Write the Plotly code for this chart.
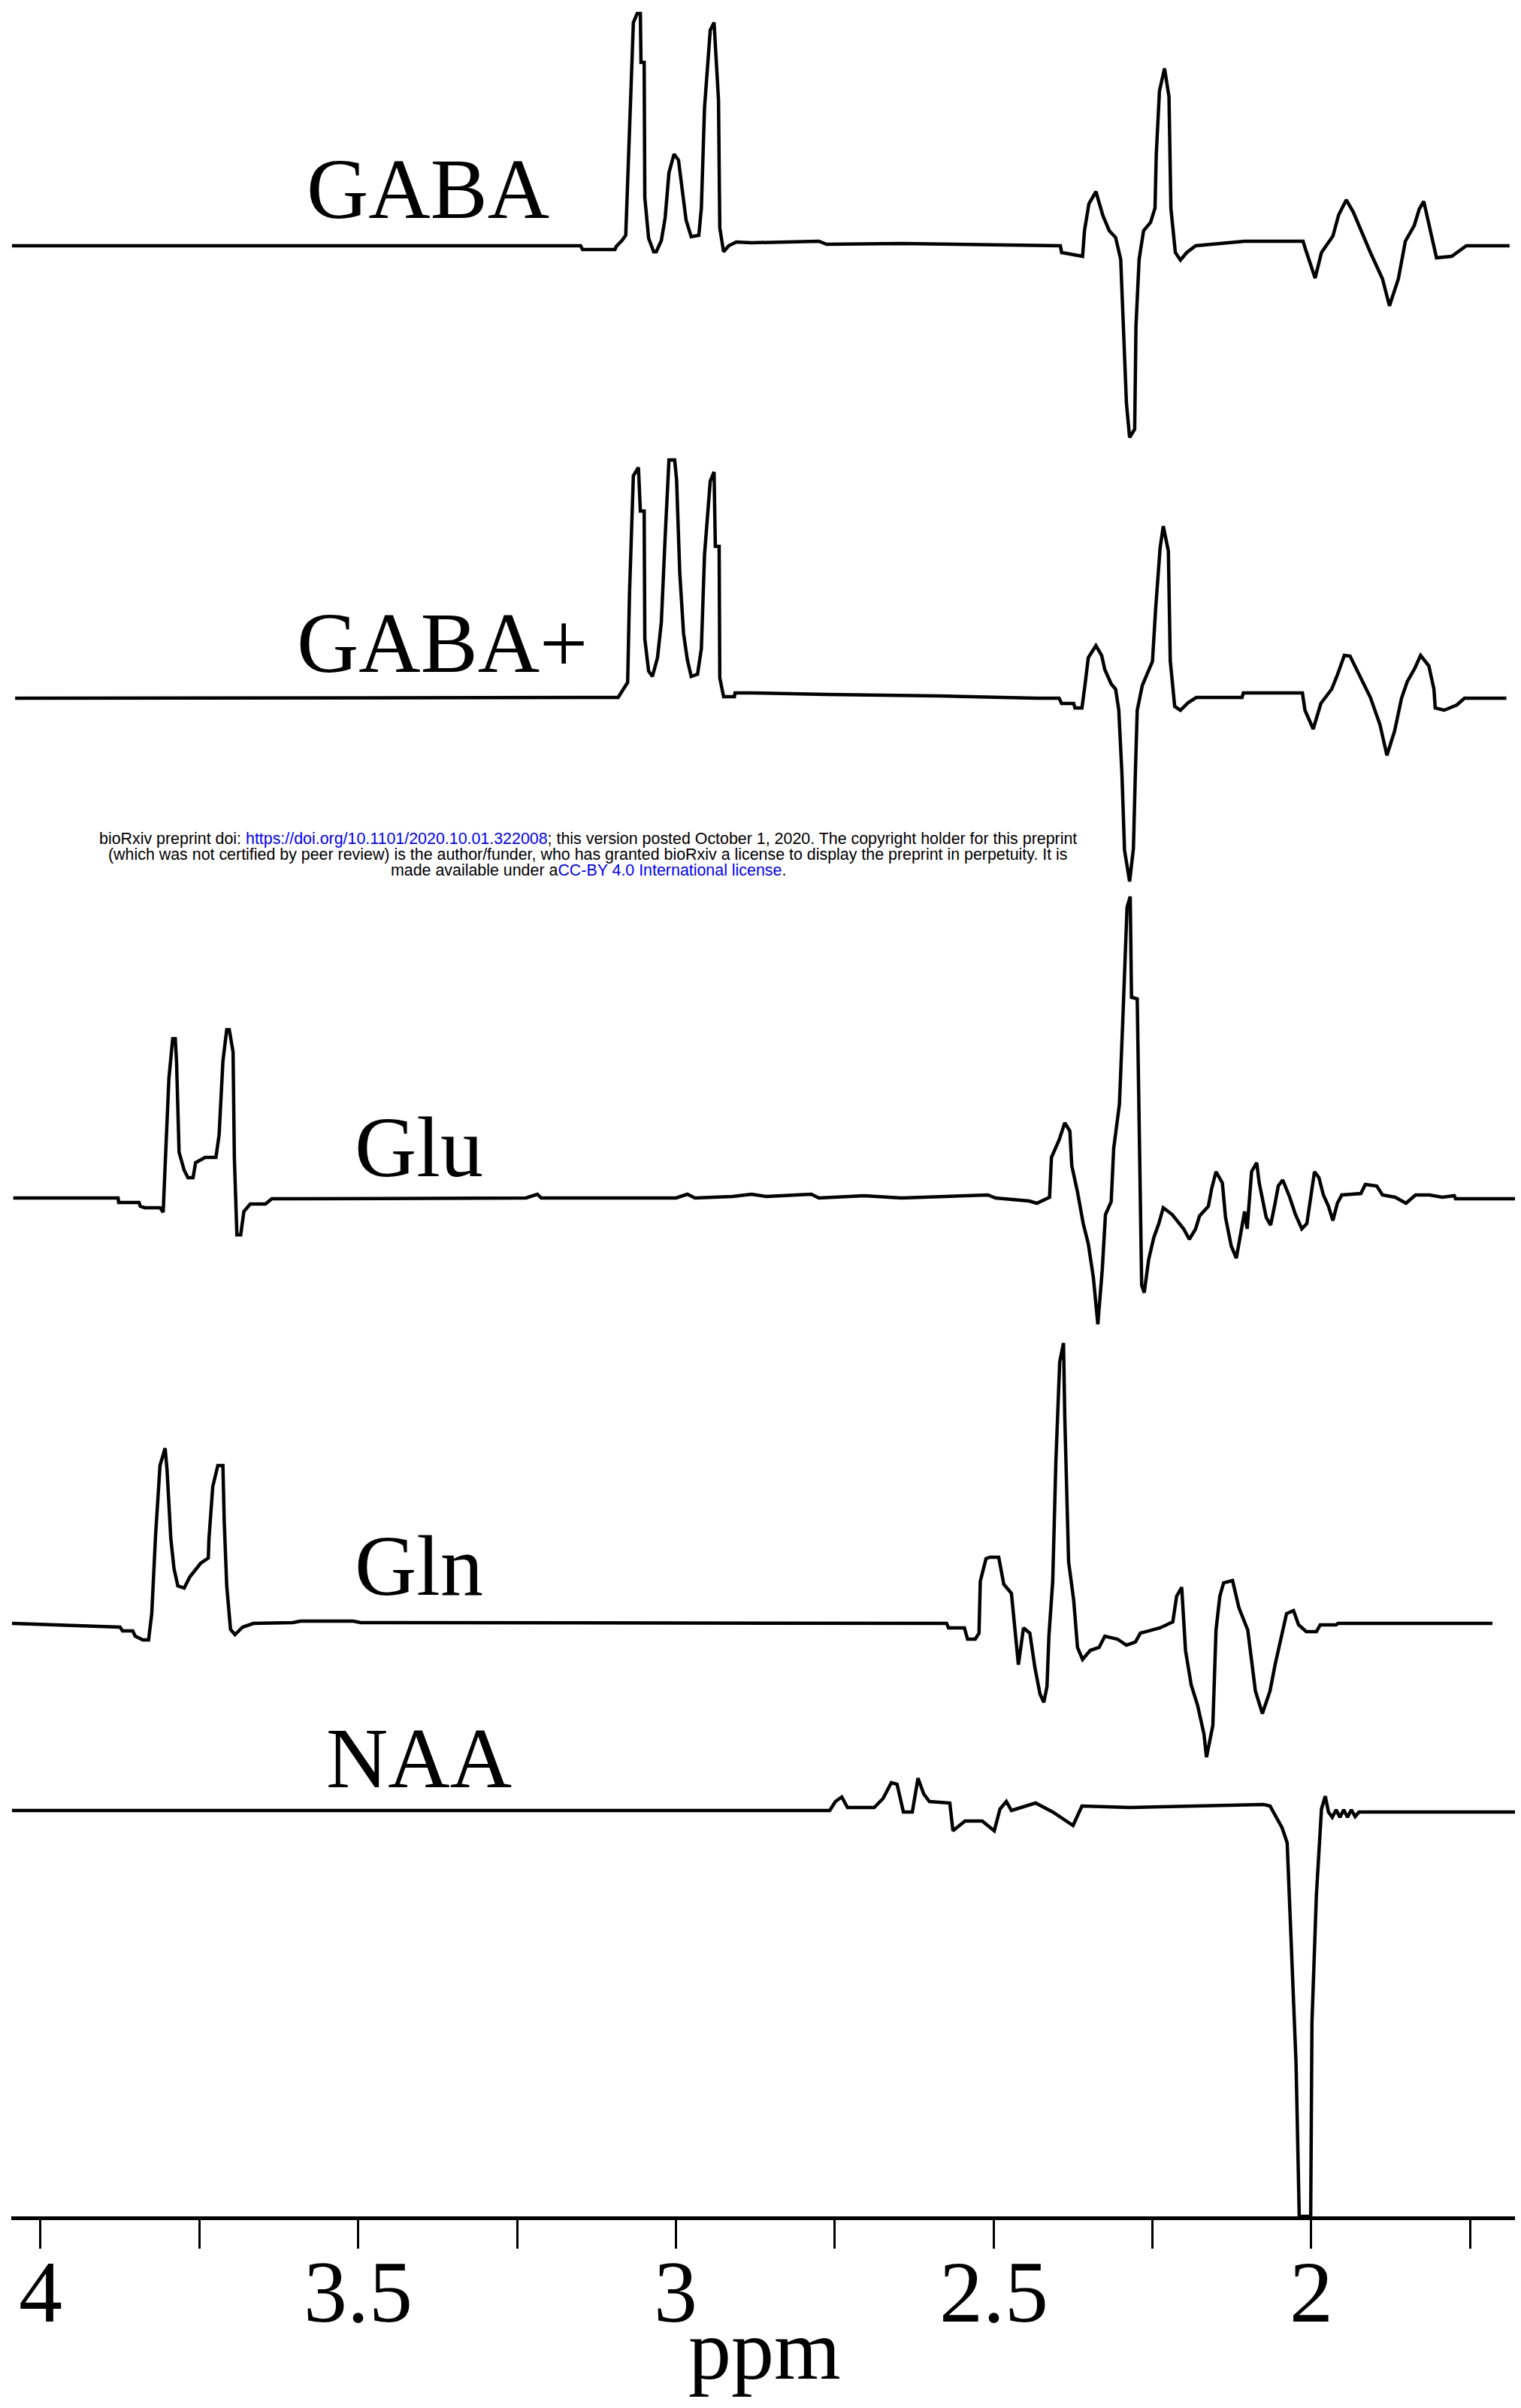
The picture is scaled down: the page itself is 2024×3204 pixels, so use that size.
import plotly.graph_objects as go

# ---------------- data ----------------
gaba_ppm = [4.045, 3.150, 3.147, 3.096, 3.094, 3.085, 3.079, 3.074, 3.067, 3.061, 3.056, 3.055, 3.050, 3.049,
            3.043, 3.035, 3.031, 3.023, 3.017, 3.011, 3.003, 2.996, 2.990, 2.984, 2.976, 2.964, 2.960, 2.955,
            2.946, 2.940, 2.933, 2.931, 2.925, 2.917, 2.905, 2.881, 2.775, 2.763, 2.645, 2.432, 2.395, 2.393,
            2.360, 2.357, 2.350, 2.339, 2.328, 2.318, 2.308, 2.300, 2.296, 2.291, 2.286, 2.278, 2.276, 2.271,
            2.264, 2.253, 2.246, 2.244, 2.239, 2.231, 2.224, 2.221, 2.214, 2.206, 2.196, 2.182, 2.105, 2.013,
            2.009, 1.994, 1.984, 1.966, 1.957, 1.945, 1.934, 1.907, 1.888, 1.877, 1.863, 1.852, 1.838, 1.830,
            1.823, 1.811, 1.803, 1.779, 1.756, 1.688]
gaba_amp = [0, 0, -5, -5, -1, 7, 14, 140, 297, 309, 309, 244, 244, 64,
            10, -8, -8, 7, 37, 97, 122, 114, 74, 34, 12, 14, 50, 184,
            287, 297, 194, 24, -8, 0, 5, 4, 6, 2, 3, 0, 0, -9,
            -14, 20, 56, 72, 40, 20, 11, -18, -107, -209, -255, -244, -107, -18,
            20, 31, 50, 122, 206, 236, 198, 50, -9, -19, -9, 0, 6, 6,
            -5, -43, -9, 13, 41, 61, 45, -9, -44, -80, -44, 6, 27, 49,
            59, 16, -16, -14, 0, 0]

gabap_ppm = [4.040, 3.091, 3.085, 3.076, 3.073, 3.067, 3.059, 3.056, 3.050, 3.049, 3.043, 3.037, 3.029, 3.023,
             3.017, 3.011, 3.002, 2.999, 2.994, 2.988, 2.982, 2.976, 2.966, 2.960, 2.955, 2.946, 2.940, 2.938,
             2.932, 2.931, 2.925, 2.908, 2.907, 2.881, 2.763, 2.585, 2.432, 2.397, 2.393, 2.374, 2.372, 2.361,
             2.356, 2.351, 2.339, 2.330, 2.325, 2.315, 2.308, 2.303, 2.298, 2.294, 2.286, 2.280, 2.277, 2.274,
             2.266, 2.259, 2.250, 2.245, 2.238, 2.233, 2.225, 2.222, 2.215, 2.206, 2.194, 2.181, 2.109, 2.107,
             2.014, 2.010, 1.997, 1.985, 1.968, 1.959, 1.948, 1.939, 1.927, 1.907, 1.892, 1.881, 1.869, 1.858,
             1.849, 1.837, 1.828, 1.815, 1.807, 1.805, 1.791, 1.771, 1.759, 1.693]
gabap_amp = [0, 1, 9, 21, 142, 296, 307, 249, 249, 79, 36, 29, 54, 101,
             214, 317, 317, 291, 167, 86, 51, 29, 32, 66, 191, 289, 301, 202,
             202, 27, 2, 2, 7, 7, 5, 3, 0, 0, -7, -7, -13, -13,
             19, 54, 70, 57, 38, 19, 12, -16, -102, -202, -244, -200, -102, -16,
             17, 31, 49, 119, 200, 229, 196, 50, -11, -16, -6, 1, 1, 7,
             7, -16, -41, -7, 12, 31, 57, 56, 35, 1, -35, -76, -44, 0,
             22, 40, 57, 43, 12, -13, -16, -9, 0, 0]

glu_ppm = [4.043, 3.878, 3.877, 3.845, 3.843, 3.836, 3.812, 3.807, 3.804, 3.798, 3.792, 3.788, 3.786, 3.782,
           3.774, 3.768, 3.760, 3.756, 3.741, 3.724, 3.719, 3.713, 3.707, 3.703, 3.697, 3.695, 3.691, 3.685,
           3.680, 3.670, 3.646, 3.636, 3.591, 3.236, 3.218, 3.212, 3.000, 2.982, 2.970, 2.911, 2.881, 2.858,
           2.787, 2.775, 2.704, 2.645, 2.509, 2.497, 2.444, 2.432, 2.412, 2.409, 2.397, 2.388, 2.380, 2.377,
           2.368, 2.359, 2.351, 2.343, 2.336, 2.329, 2.324, 2.315, 2.311, 2.302, 2.297, 2.290, 2.285, 2.283,
           2.274, 2.270, 2.267, 2.263, 2.256, 2.248, 2.240, 2.233, 2.219, 2.201, 2.192, 2.182, 2.176, 2.162,
           2.157, 2.150, 2.140, 2.135, 2.126, 2.118, 2.110, 2.105, 2.101, 2.094, 2.086, 2.082, 2.071, 2.064,
           2.057, 2.052, 2.045, 2.034, 2.025, 2.015, 2.007, 2.000, 1.995, 1.988, 1.981, 1.973, 1.966, 1.959,
           1.952, 1.922, 1.915, 1.897, 1.888, 1.868, 1.851, 1.836, 1.814, 1.794, 1.775, 1.773, 1.677]
glu_amp = [0, 0, -6, -6, -11, -13, -13, -19, 42, 159, 212, 212, 182, 61,
           37, 27, 27, 47, 54, 54, 84, 182, 224, 224, 194, 54, -49, -49,
           -18, -8, -8, -1, -1, 0, 5, 0, 0, 5, 0, 2, 5, 2,
           5, 0, 3, 0, 4, 0, -4, -7, 1, 54, 77, 100, 89, 43,
           8, -34, -61, -106, -168, -95, -22, -5, 66, 125, 230, 387, 401, 267,
           265, 43, -116, -126, -82, -53, -34, -13, -22, -41, -55, -41, -24, -11,
           12, 35, 20, -26, -64, -80, -38, -18, -41, 35, 47, 20, -26, -36,
           -7, 16, 24, 1, -22, -41, -34, 8, 35, 27, 4, -11, -30, -7,
           4, 6, 18, 16, 4, 1, -7, 4, 4, 1, 3, -1, -1]

gln_ppm = [4.045, 3.886, 3.875, 3.871, 3.855, 3.851, 3.839, 3.830, 3.825, 3.819, 3.812, 3.804, 3.801, 3.795,
           3.790, 3.784, 3.774, 3.765, 3.748, 3.736, 3.735, 3.729, 3.721, 3.713, 3.711, 3.707, 3.701, 3.694,
           3.682, 3.665, 3.603, 3.591, 3.508, 3.496, 2.645, 2.585, 2.574, 2.571, 2.546, 2.541, 2.529, 2.523,
           2.521, 2.512, 2.506, 2.492, 2.484, 2.472, 2.467, 2.461, 2.453, 2.443, 2.435, 2.427, 2.421, 2.416,
           2.413, 2.407, 2.402, 2.396, 2.390, 2.388, 2.382, 2.374, 2.368, 2.360, 2.348, 2.334, 2.325, 2.305,
           2.291, 2.277, 2.269, 2.238, 2.218, 2.212, 2.204, 2.198, 2.189, 2.179, 2.169, 2.165, 2.155, 2.150,
           2.144, 2.138, 2.124, 2.114, 2.100, 2.088, 2.077, 2.065, 2.057, 2.051, 2.039, 2.028, 2.020, 2.008,
           1.992, 1.986, 1.961, 1.958, 1.715]
gln_amp = [-1, -6, -6, -11, -11, -18, -23, -23, 12, 116, 209, 232, 204, 112,
           72, 49, 46, 61, 79, 86, 111, 181, 209, 209, 136, 49, -9, -16,
           -6, -1, 0, 2, 2, 0, 0, -1, -1, -7, -7, -22, -22, -14,
           55, 85, 87, 87, 51, 39, -10, -56, -7, -14, -60, -95, -106, -85,
           -18, 55, 215, 347, 372, 273, 81, 30, -33, -49, -37, -33, -18, -22,
           -30, -26, -14, -7, 1, 35, 47, -37, -83, -110, -148, -179, -137, -10,
           35, 53, 56, 20, -10, -91, -121, -91, -56, -33, 12, 16, -3, -12,
           -12, -3, -3, -1, -1]

naa_ppm = [4.045, 3.118, 2.758, 2.749, 2.739, 2.730, 2.688, 2.674, 2.661, 2.652, 2.642, 2.628, 2.619, 2.610,
           2.601, 2.569, 2.564, 2.545, 2.518, 2.499, 2.490, 2.480, 2.472, 2.434, 2.407, 2.375, 2.361, 2.286,
           2.140, 2.075, 2.065, 2.046, 2.038, 2.033, 2.024, 2.019, 2.001, 1.999, 1.992, 1.984, 1.978, 1.973,
           1.967, 1.961, 1.955, 1.949, 1.943, 1.937, 1.931, 1.925, 1.677]
naa_amp = [0, 0, 0, 12, 18, 4, 4, 16, 37, 35, -2, -2, 43, 22,
           12, 10, -27, -14, -14, -27, 2, 12, 0, 10, -2, -20, 6, 4,
           6, 8, 6, -23, -43, -153, -337, -540, -540, -282, -112, 2, 19, -2,
           -9, 1, -9, 1, -9, 1, -8, -2, -2]

names = ["GABA", "GABA+", "Glu", "Gln", "NAA"]
tick_vals = [4, 3.5, 3, 2.5, 2]
tick_text = ["4", "3.5", "3", "2.5", "2"]
x_title = "ppm"

# ---------------- layout / style ----------------
W, H = 2024, 3204
PAGE_OFF = 8                      # default body margin of the html page
ML, MR, MT, MB = 15 - PAGE_OFF, 5 + PAGE_OFF, 0, 255 + PAGE_OFF
Y_TOP = H - MB - MT               # plot height in axis units (1 unit = 1 px)
BASELINES = [2622, 2020, 1355, 790, 540]   # vertical offsets of the stacked spectra
LABEL_POS = [(3.390, 2698), (3.368, 2094), (3.404, 1423), (3.404, 866), (3.404, 610)]
LINE_W = 4.5
SERIF = "Liberation Serif, Times New Roman, serif"
SANS = "Liberation Sans, Arial, sans-serif"
TICKLABEL_Y = -101 / Y_TOP        # paper units below the axis line
TITLE_Y = -178 / Y_TOP

series = [(gaba_ppm, gaba_amp), (gabap_ppm, gabap_amp), (glu_ppm, glu_amp),
          (gln_ppm, gln_amp), (naa_ppm, naa_amp)]

fig = go.Figure()
for (ppm, amp), base, name in zip(series, BASELINES, names):
    fig.add_trace(go.Scatter(x=ppm, y=[base + a for a in amp], mode="lines", name=name,
                             line=dict(color="black", width=LINE_W), showlegend=False,
                             hoverinfo="skip"))

for name, (lx, ly) in zip(names, LABEL_POS):
    fig.add_annotation(x=lx, y=ly, xref="x", yref="y", text=name, showarrow=False,
                       xanchor="center", yanchor="middle",
                       font=dict(family=SERIF, size=114, color="black"))

# tick labels and axis title, placed below the axis line
for tv, tt in zip(tick_vals, tick_text):
    fig.add_annotation(x=tv, y=TICKLABEL_Y, xref="x", yref="paper", text=tt, showarrow=False,
                       xanchor="center", yanchor="middle",
                       font=dict(family=SERIF, size=116, color="black"))
fig.add_annotation(x=0.5, y=TITLE_Y, xref="paper", yref="paper", text=x_title, showarrow=False,
                   xanchor="center", yanchor="middle",
                   font=dict(family=SERIF, size=114, color="black"))

blue = "#0000ff"
notice = [
    "bioRxiv preprint doi: <span style='color:%s'>https://doi.org/10.1101/2020.10.01.322008</span>; "
    "this version posted October 1, 2020. The copyright holder for this preprint" % blue,
    "(which was not certified by peer review) is the author/funder, who has granted bioRxiv a license "
    "to display the preprint in perpetuity. It is",
    "made available under a<span style='color:%s'>CC-BY 4.0 International license</span>." % blue,
]
for i, line in enumerate(notice):
    fig.add_annotation(x=3.138, y=Y_TOP - 1116 + PAGE_OFF - 21 * i, xref="x", yref="y", text=line,
                       showarrow=False, xanchor="center", yanchor="middle",
                       font=dict(family=SANS, size=21.4, color="black"))

fig.update_layout(
    width=W, height=H,
    margin=dict(l=ML, r=MR, t=MT, b=MB, pad=0, autoexpand=False),
    paper_bgcolor="white", plot_bgcolor="white",
    xaxis=dict(range=[4.0461, 1.6759], showgrid=False, zeroline=False, automargin=False,
               showline=True, linecolor="black", linewidth=5,
               tickmode="array", tickvals=tick_vals, showticklabels=False,
               ticks="outside", ticklen=38, tickwidth=3, tickcolor="black",
               minor=dict(dtick=0.25, tick0=0, ticks="outside", ticklen=38, tickwidth=3,
                          tickcolor="black", showgrid=False)),
    yaxis=dict(range=[0, Y_TOP], visible=False, showgrid=False, zeroline=False, automargin=False),
)

fig.write_html("out.html")
